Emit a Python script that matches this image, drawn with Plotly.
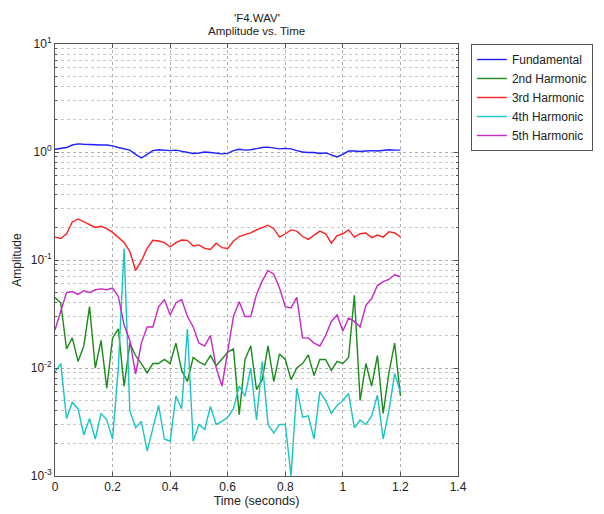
import numpy as np
import plotly.graph_objects as go

time_s = [round(0.02 * i, 2) for i in range(61)]

fundamental = [1.06, 1.08, 1.10, 1.16, 1.19, 1.18, 1.17, 1.16, 1.16, 1.16,
               1.14, 1.10, 1.07, 1.04, 0.95, 0.88, 0.95, 1.03, 1.05, 1.04,
               1.03, 1.04, 1.02, 1.00, 0.97, 0.98, 1.00, 0.99, 0.98, 0.96,
               0.97, 1.03, 1.06, 1.04, 1.05, 1.08, 1.10, 1.11, 1.09, 1.07,
               1.08, 1.07, 1.03, 1.00, 0.99, 0.99, 0.97, 0.98, 0.94, 0.90,
               0.95, 1.02, 1.02, 1.01, 1.02, 1.03, 1.02, 1.04, 1.05, 1.04, 1.04]

harmonic2 = [0.045, 0.040, 0.015, 0.019, 0.0115, 0.016, 0.037, 0.010, 0.018, 0.0065,
             0.019, 0.023, 0.0068, 0.017, 0.013, 0.011, 0.009, 0.011, 0.011, 0.012,
             0.011, 0.017, 0.0095, 0.0075, 0.0125, 0.0114, 0.0107, 0.013, 0.0105, 0.012,
             0.014, 0.015, 0.0037, 0.012, 0.016, 0.0063, 0.0078, 0.016, 0.0075, 0.0135,
             0.012, 0.0078, 0.010, 0.011, 0.0132, 0.0085, 0.012, 0.012, 0.0095, 0.0115,
             0.011, 0.0125, 0.047, 0.005, 0.011, 0.0068, 0.013, 0.0038, 0.009, 0.017, 0.0055]

harmonic3 = [0.163, 0.158, 0.175, 0.225, 0.240, 0.225, 0.210, 0.200, 0.205, 0.195,
             0.180, 0.160, 0.145, 0.120, 0.080, 0.098, 0.128, 0.152, 0.150, 0.145,
             0.132, 0.145, 0.153, 0.152, 0.135, 0.138, 0.128, 0.125, 0.143, 0.130,
             0.128, 0.150, 0.165, 0.172, 0.178, 0.190, 0.200, 0.210, 0.195, 0.163,
             0.175, 0.190, 0.185, 0.165, 0.155, 0.170, 0.185, 0.175, 0.143, 0.168,
             0.175, 0.190, 0.163, 0.175, 0.178, 0.161, 0.170, 0.163, 0.183, 0.178, 0.164]

harmonic4 = [0.0092, 0.011, 0.0034, 0.0048, 0.0042, 0.0024, 0.0034, 0.0022, 0.0038, 0.0033,
             0.0022, 0.010, 0.128, 0.0040, 0.0028, 0.0032, 0.0017, 0.0028, 0.0045, 0.0022,
             0.0021, 0.0055, 0.0042, 0.023, 0.0021, 0.0030, 0.0027, 0.0044, 0.0030, 0.0032,
             0.0035, 0.0042, 0.0068, 0.0055, 0.0100, 0.0033, 0.0115, 0.0030, 0.0025, 0.0030,
             0.0030, 0.0010, 0.0065, 0.0035, 0.0036, 0.0022, 0.0060, 0.0050, 0.0038, 0.0045,
             0.0050, 0.0058, 0.0028, 0.0033, 0.0030, 0.0036, 0.0056, 0.0022, 0.0040, 0.0089, 0.0060]

harmonic5 = [0.0225, 0.034, 0.050, 0.051, 0.048, 0.052, 0.050, 0.053, 0.054, 0.053,
             0.055, 0.046, 0.025, 0.018, 0.0088, 0.017, 0.024, 0.024, 0.037, 0.043,
             0.031, 0.040, 0.043, 0.030, 0.024, 0.017, 0.016, 0.020, 0.010, 0.0068,
             0.015, 0.030, 0.041, 0.030, 0.030, 0.048, 0.064, 0.080, 0.074, 0.055,
             0.037, 0.036, 0.045, 0.019, 0.019, 0.017, 0.016, 0.020, 0.027, 0.031,
             0.022, 0.029, 0.027, 0.024, 0.038, 0.044, 0.058, 0.063, 0.066, 0.073, 0.070]

series_names = ["Fundamental", "2nd Harmonic", "3rd Harmonic", "4th Harmonic", "5th Harmonic"]
series_values = [fundamental, harmonic2, harmonic3, harmonic4, harmonic5]
series_colors = ["#1f1fff", "#1a8a1a", "#ff2020", "#19c4c4", "#c628c6"]

title_lines = ["'F4.WAV'", "Amplitude vs. Time"]
x_ticks = [0, 0.2, 0.4, 0.6, 0.8, 1.0, 1.2, 1.4]
x_tick_labels = ["0", "0.2", "0.4", "0.6", "0.8", "1", "1.2", "1.4"]
y_ticks = [1e-3, 1e-2, 1e-1, 1e0, 1e1]
y_tick_labels = ["10<sup>-3</sup>", "10<sup>-2</sup>", "10<sup>-1</sup>", "10<sup>0</sup>", "10<sup>1</sup>"]
y_minor = [m * d for d in [1e-3, 1e-2, 1e-1, 1e0] for m in range(2, 10)]

fig = go.Figure()
for name, vals, col in zip(series_names, series_values, series_colors):
    fig.add_trace(go.Scatter(x=time_s, y=vals, mode="lines", name=name,
                             line=dict(color=col, width=1.4)))

font_family = "Arial, Liberation Sans, Helvetica, sans-serif"
txt_col = "#222222"
axis_common = dict(showline=True, linecolor="#555555", linewidth=1, mirror="ticks",
                   ticks="inside", ticklen=4, tickcolor="#555555", automargin=False,
                   showgrid=True, gridcolor="#b0b0b0", griddash="dot", gridwidth=1,
                   zeroline=False, tickfont=dict(size=12, color=txt_col, family=font_family))

fig.update_xaxes(range=[0, 1.4], tickmode="array", tickvals=x_ticks, ticktext=x_tick_labels,
                 title=dict(text="Time (seconds)", font=dict(size=12.5, color=txt_col), standoff=2),
                 **axis_common)
fig.update_yaxes(type="log", range=[-3, 1], tickmode="array", tickvals=y_ticks, ticktext=y_tick_labels,
                 title=dict(text="Amplitude", font=dict(size=12, color=txt_col), standoff=6),
                 minor=dict(tickmode="array", tickvals=y_minor, showgrid=True, gridcolor="#c8c8c8",
                            griddash="dot", ticks="inside", ticklen=2, tickcolor="#555555"),
                 **axis_common)

# Title as two centred lines above the plot area
fig.add_annotation(text=title_lines[0], xref="paper", yref="paper", x=0.5, y=1.061,
                   xanchor="center", yanchor="middle", showarrow=False,
                   font=dict(size=11.5, color=txt_col, family=font_family))
fig.add_annotation(text=title_lines[1], xref="paper", yref="paper", x=0.5, y=1.030,
                   xanchor="center", yanchor="middle", showarrow=False,
                   font=dict(size=11.5, color=txt_col, family=font_family))

fig.update_layout(
    width=596, height=506,
    margin=dict(l=47, r=146, t=36, b=38, autoexpand=False),
    paper_bgcolor="white", plot_bgcolor="white",
    font=dict(family=font_family, size=12, color=txt_col),
    legend=dict(x=1.032, y=1.0, xanchor="left", yanchor="top", bgcolor="white",
                bordercolor="#555555", borderwidth=1, font=dict(size=12, color=txt_col),
                tracegroupgap=0),
    showlegend=True,
)

fig.write_html("out.html")
